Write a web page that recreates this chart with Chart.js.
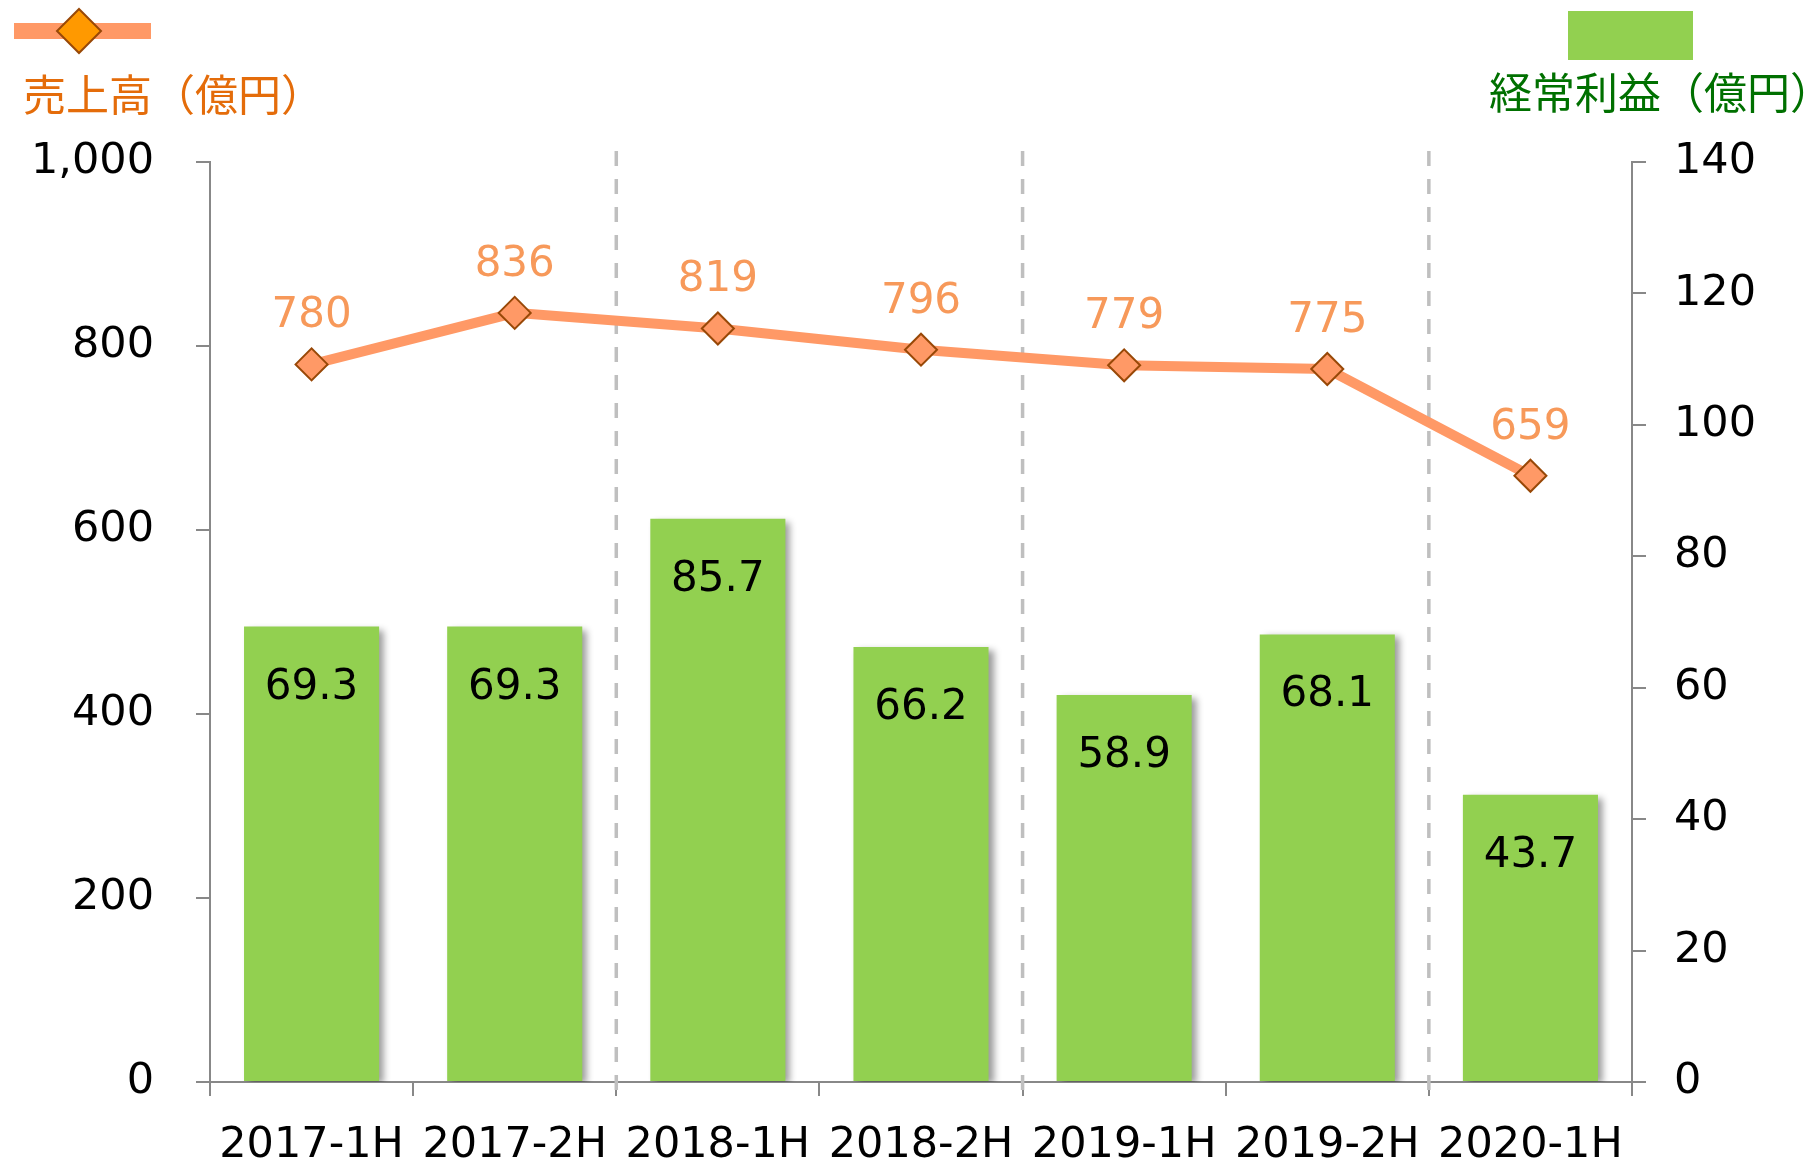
<!DOCTYPE html>
<html>
<head>
<meta charset="utf-8">
<script src="https://cdn.jsdelivr.net/npm/chart.js@4/dist/chart.umd.min.js"></script>
<style>
html,body{margin:0;padding:0;background:#fff;}
#wrap{position:relative;width:1807px;height:1160px;}
</style>
</head>
<body>
<div id="wrap"><canvas id="c" width="1807" height="1160"></canvas></div>
<script>
const categories = ['2017-1H','2017-2H','2018-1H','2018-2H','2019-1H','2019-2H','2020-1H'];
const salesValues = [780, 836, 819, 796, 779, 775, 659];
const profitValues = [69.3, 69.3, 85.7, 66.2, 58.9, 68.1, 43.7];
const leftTicks = [0, 200, 400, 600, 800, 1000];
const rightTicks = [0, 20, 40, 60, 80, 100, 120, 140];
const salesLabel = '売上高（億円）';
const profitLabel = '経常利益（億円）';
const dividerAfter = [1, 3, 5];

const FONT = '"DejaVu Sans", "Noto Sans CJK JP", sans-serif';
const CJK = '"Noto Sans CJK JP", "DejaVu Sans", sans-serif';

const decorPlugin = {
  id: 'decor',
  beforeDatasetsDraw(chart) {
    const ctx = chart.ctx, x = chart.scales.x;
    ctx.save();
    ctx.strokeStyle = '#BFBFBF';
    ctx.lineWidth = 3.5;
    ctx.setLineDash([15, 13]);
    dividerAfter.forEach(i => {
      const px = (x.getPixelForValue(i) + x.getPixelForValue(i + 1)) / 2;
      ctx.beginPath();
      ctx.moveTo(px, 151);
      ctx.lineTo(px, 1095);
      ctx.stroke();
    });
    ctx.restore();
  },
  beforeDatasetDraw(chart, args) {
    if (chart.data.datasets[args.index].type === 'bar') {
      const ctx = chart.ctx;
      ctx.shadowColor = 'rgba(0,0,0,0.4)';
      ctx.shadowBlur = 7;
      ctx.shadowOffsetX = 5;
      ctx.shadowOffsetY = 3;
    }
  },
  afterDatasetDraw(chart) {
    const ctx = chart.ctx;
    ctx.shadowColor = 'rgba(0,0,0,0)';
    ctx.shadowBlur = 0;
    ctx.shadowOffsetX = 0;
    ctx.shadowOffsetY = 0;
  },
  afterDatasetsDraw(chart) {
    const ctx = chart.ctx;
    ctx.save();
    ctx.textAlign = 'center';
    ctx.textBaseline = 'middle';
    ctx.font = '42px ' + FONT;
    const barMeta = chart.getDatasetMeta(1);
    barMeta.data.forEach((el, i) => {
      ctx.fillStyle = '#000';
      ctx.fillText(profitValues[i].toFixed(1), el.x, el.y + 61);
    });
    const lineMeta = chart.getDatasetMeta(0);
    lineMeta.data.forEach((el, i) => {
      ctx.fillStyle = '#F7995A';
      ctx.fillText(String(salesValues[i]), el.x, el.y - 48);
    });
    ctx.restore();
  },
  afterDraw(chart) {
    const ctx = chart.ctx;
    ctx.save();
    ctx.fillStyle = '#FF9966';
    ctx.fillRect(14, 23, 137, 16);
    ctx.beginPath();
    ctx.moveTo(79, 9); ctx.lineTo(101, 31); ctx.lineTo(79, 53); ctx.lineTo(57, 31); ctx.closePath();
    ctx.fillStyle = '#FF9900';
    ctx.fill();
    ctx.strokeStyle = '#984807';
    ctx.lineWidth = 2;
    ctx.stroke();
    ctx.font = '43px ' + CJK;
    ctx.textBaseline = 'middle';
    ctx.textAlign = 'left';
    ctx.fillStyle = '#E46C0A';
    ctx.fillText(salesLabel, 23, 95);
    ctx.fillStyle = '#92D050';
    ctx.fillRect(1568, 11, 125, 49);
    ctx.fillStyle = '#007000';
    ctx.fillText(profitLabel, 1489, 93);
    ctx.restore();
  }
};

new Chart(document.getElementById('c'), {
  data: {
    labels: categories,
    datasets: [
      {
        type: 'line',
        label: salesLabel,
        data: salesValues,
        yAxisID: 'y',
        order: 0,
        borderColor: '#FF9966',
        borderWidth: 10,
        pointStyle: 'rectRot',
        pointRadius: 16,
        pointBackgroundColor: '#FF9966',
        pointBorderColor: '#984807',
        pointBorderWidth: 2,
        tension: 0
      },
      {
        type: 'bar',
        label: profitLabel,
        data: profitValues,
        yAxisID: 'y1',
        order: 1,
        backgroundColor: '#92D050',
        barPercentage: 0.665,
        categoryPercentage: 1.0
      }
    ]
  },
  options: {
    responsive: false,
    animation: false,
    layout: { padding: { top: 162, left: 0, right: 0, bottom: 0 } },
    plugins: { legend: { display: false }, tooltip: { enabled: false } },
    scales: {
      x: {
        offset: true,
        grid: { display: true, drawOnChartArea: false, drawTicks: true, tickLength: 14, color: '#888', lineWidth: 2, offset: true },
        border: { display: true, color: '#888', width: 2 },
        ticks: { color: '#000', font: { family: FONT, size: 43 }, padding: 24, maxRotation: 0, autoSkip: false },
        afterFit(s) { s.height = 78; }
      },
      y: {
        position: 'left',
        min: 0, max: 1000,
        afterBuildTicks(s) { s.ticks = leftTicks.map(v => ({ value: v })); },
        grid: { drawOnChartArea: false, drawTicks: true, tickLength: 14, color: '#888', lineWidth: 2 },
        border: { display: true, color: '#888', width: 2 },
        ticks: { color: '#000', font: { family: FONT, size: 43 }, padding: 42,
          callback: v => v.toLocaleString('en-US') },
        afterFit(s) { s.width = 210; }
      },
      y1: {
        position: 'right',
        min: 0, max: 140,
        afterBuildTicks(s) { s.ticks = rightTicks.map(v => ({ value: v })); },
        grid: { drawOnChartArea: false, drawTicks: true, tickLength: 14, color: '#888', lineWidth: 2 },
        border: { display: true, color: '#888', width: 2 },
        ticks: { color: '#000', font: { family: FONT, size: 43 }, padding: 28 },
        afterFit(s) { s.width = 175; }
      }
    }
  },
  plugins: [decorPlugin]
});
</script>
</body>
</html>
